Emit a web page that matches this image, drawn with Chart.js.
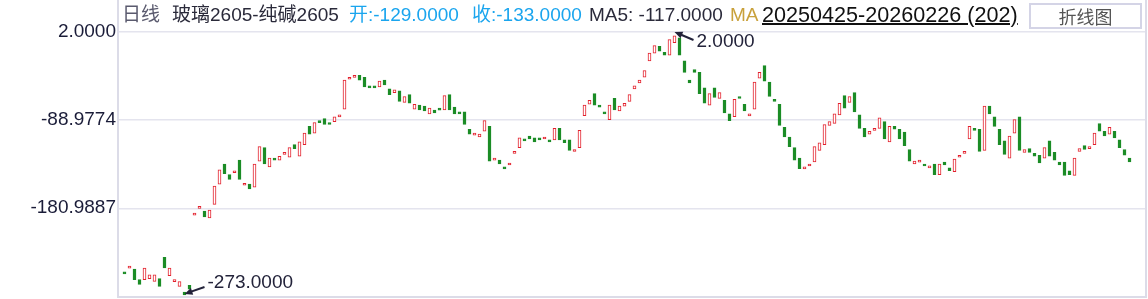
<!DOCTYPE html>
<html>
<head>
<meta charset="utf-8">
<script src="https://cdn.jsdelivr.net/npm/chart.js@4.4.1/dist/chart.umd.min.js"></script>
<style>
  body { margin: 0; background: #fff; }
  #wrap { position: relative; width: 1148px; height: 299px; overflow: hidden;
          font-family: "Liberation Sans", Arial, "Noto Sans CJK SC", sans-serif; }
  #c { position: absolute; left: 0; top: 0; }
  .hd { position: absolute; top: 4px; font-size: 19px; line-height: 22px; white-space: nowrap; color: #2a2a3a; }
  .date { top: 3px; font-size: 21.6px; line-height: 24px; color: #111; text-decoration: underline;
          text-decoration-thickness: 2px; }
  .btn { position: absolute; left: 1029px; top: 3px; width: 109px; height: 22px; border: 2px solid #d4d4e6;
         font-size: 18px; line-height: 22px; text-align: center; color: #555; font-family: "Noto Sans CJK SC", sans-serif; }
</style>
</head>
<body>
<div id="wrap">
  <canvas id="c" width="1148" height="299"></canvas>
  <div class="hd" style="left:122px;color:#5a5a6e">日线</div>
  <div class="hd" style="left:172px">玻璃2605-纯碱2605</div>
  <div class="hd" style="left:349px;color:#1aa5ee">开:-129.0000</div>
  <div class="hd" style="left:472px;color:#1aa5ee">收:-133.0000</div>
  <div class="hd" style="left:589px">MA5: -117.0000</div>
  <div class="hd" style="left:730px;color:#c9a13b">MA</div>
  <div class="hd date" style="left:762px">20250425-20260226 (202)</div>
  <div class="btn">折线图</div>
</div>
<script>
// 玻璃2605-纯碱2605 日线价差，202 根K线（开/收）
const opens = [
  -247, -243, -244, -255, -255, -254, -257, -254, -232, -251,
  -257, -262, -268, -261, -186, -180, -184, -191, -177, -156,
  -135, -146, -142, -131, -155, -156, -159, -132, -118, -138,
  -129, -131, -123, -128, -115, -127, -115, -96, -103, -90,
  -88, -92, -91, -84, -78, -45, -45, -43, -45, -54,
  -54, -55, -48, -57, -61, -59, -71, -63, -78, -74,
  -75, -83, -79, -77, -79, -63, -76, -81, -81, -99,
  -103, -107, -101, -96, -131, -131, -138, -134, -122, -118,
  -109, -106, -108, -108, -107, -110, -110, -98, -110, -110,
  -122, -118, -85, -73, -62, -74, -81, -89, -67, -80,
  -75, -70, -57, -51, -45, -28, -20, -13, -19, -22,
  -9, -4, -28, -48, -37, -40, -56, -74, -56, -67,
  -69, -83, -86, -65, -73, -85, -78, -46, -33, -50,
  -68, -73, -97, -107, -118, -129, -140, -137, -133, -121,
  -115, -95, -93, -84, -64, -71, -61, -84, -98, -104,
  -100, -98, -91, -112, -96, -99, -102, -120, -135, -133,
  -135, -137, -135, -146, -133, -139, -143, -128, -122, -109,
  -98, -99, -121, -75, -86, -99, -111, -129, -103, -86,
  -123, -119, -124, -126, -129, -111, -123, -133, -133, -142,
  -147, -122, -116, -119, -115, -93, -101, -104, -101, -110,
  -120, -129
];
const closes = [
  -248, -241, -255, -260, -243, -250, -250, -262, -243, -243,
  -255, -257, -271, -265, -186, -179, -190, -183, -158, -141,
  -145, -151, -142, -151, -155, -161, -135, -117, -135, -129,
  -131, -127, -123, -118, -119, -112, -103, -104, -92, -92,
  -94, -93, -86, -84, -48, -45, -43, -48, -55, -56,
  -56, -49, -53, -63, -58, -70, -65, -72, -73, -79,
  -80, -77, -82, -78, -64, -79, -83, -82, -94, -104,
  -103, -104, -90, -132, -129, -135, -140, -134, -122, -108,
  -110, -109, -112, -110, -107, -111, -98, -110, -113, -121,
  -120, -100, -74, -69, -74, -76, -83, -74, -79, -75,
  -72, -63, -54, -48, -38, -20, -12, -18, -22, -6,
  -2, -22, -40, -51, -40, -62, -72, -62, -66, -61,
  -82, -90, -68, -67, -80, -83, -50, -40, -49, -65,
  -69, -95, -107, -117, -131, -140, -138, -135, -117, -113,
  -94, -91, -83, -72, -77, -65, -81, -98, -107, -101,
  -98, -87, -109, -96, -99, -109, -116, -132, -132, -131,
  -136, -137, -146, -135, -136, -142, -130, -126, -122, -96,
  -99, -122, -75, -83, -96, -115, -125, -106, -89, -121,
  -120, -123, -127, -134, -118, -127, -131, -136, -147, -146,
  -129, -119, -120, -117, -103, -101, -106, -97, -108, -118,
  -126, -133
];
// 纵轴刻度
const yTicks = [2.0, -88.9774, -180.9887];
// 区间最高 / 最低（影线值）
const hiIndex = 110, hiValue = 2.0;
const loIndex = 12, loValue = -273.0;

const RED = "#e3202c";
const GREEN = "#1b8c26";

const bodies = opens.map((o, i) => ({ x: i, y: [o, closes[i]] }));
const isUp = i => closes[i] >= opens[i];

// 图框：左、下、右边线
const framePlugin = {
  id: "frame",
  beforeDatasetsDraw(chart) {
    const { ctx, chartArea: a } = chart;
    ctx.save();
    ctx.strokeStyle = "#dcdce8";
    ctx.lineWidth = 2;
    ctx.beginPath();
    ctx.moveTo(a.left, 0);
    ctx.lineTo(a.left, a.bottom);
    ctx.lineTo(a.right, a.bottom);
    ctx.lineTo(a.right, 0);
    ctx.stroke();
    ctx.restore();
  }
};

function drawMark(ctx, x, y, dx, dy, text, ty) {
  const len = Math.hypot(dx, dy);
  const ux = dx / len, uy = dy / len;
  ctx.strokeStyle = "#23233a";
  ctx.fillStyle = "#23233a";
  ctx.lineWidth = 2;
  ctx.beginPath();
  ctx.moveTo(x + ux * 4, y + uy * 4);
  ctx.lineTo(x + dx, y + dy);
  ctx.stroke();
  ctx.beginPath();
  ctx.moveTo(x, y);
  ctx.lineTo(x + ux * 8 - uy * 3.5, y + uy * 8 + ux * 3.5);
  ctx.lineTo(x + ux * 8 + uy * 3.5, y + uy * 8 - ux * 3.5);
  ctx.closePath();
  ctx.fill();
  ctx.font = '19px "Liberation Sans", Arial, sans-serif';
  ctx.textAlign = "left";
  ctx.textBaseline = "middle";
  ctx.fillText(text, x + dx + 3, ty);
}

// 最高/最低点标注
const markPlugin = {
  id: "marks",
  afterDatasetsDraw(chart) {
    const { ctx, chartArea: a, scales: { x, y } } = chart;
    ctx.save();
    const hx = x.getPixelForValue(hiIndex), hy = y.getPixelForValue(hiValue);
    drawMark(ctx, hx, hy, 19, 8, hiValue.toFixed(4), hy + 10);
    const lx = x.getPixelForValue(loIndex);
    const ly = Math.min(y.getPixelForValue(loValue), a.bottom - 3);
    drawMark(ctx, lx, ly, 20, -7, loValue.toFixed(4), ly - 11);
    ctx.restore();
  }
};

new Chart(document.getElementById("c"), {
  type: "bar",
  data: {
    datasets: [{
      data: bodies,
      barThickness: 3,
      minBarLength: 2,
      borderWidth: 1,
      borderSkipped: false,
      backgroundColor: c => isUp(c.dataIndex) ? "#ffffff" : GREEN,
      borderColor: c => isUp(c.dataIndex) ? RED : GREEN
    }]
  },
  options: {
    responsive: false,
    animation: false,
    layout: { padding: { top: 0, right: 2, bottom: 2, left: 0 } },
    plugins: { legend: { display: false }, tooltip: { enabled: false } },
    scales: {
      x: { type: "linear", display: false, offset: false, grid: { offset: false }, min: -1.3, max: 204.3 },
      y: {
        min: -273.1,
        max: 35.2,
        afterBuildTicks: s => { s.ticks = yTicks.map(v => ({ value: v })); },
        afterFit: s => { s.width = 118; s.paddingTop = 0; s.paddingBottom = 0; },
        border: { display: false },
        grid: { color: "#e4e4ee", drawTicks: false, lineWidth: 1.5 },
        ticks: {
          padding: 2,
          color: "#1a1c38",
          font: { size: 19, family: '"Liberation Sans", Arial, sans-serif' },
          callback: v => v.toFixed(4)
        }
      }
    }
  },
  plugins: [framePlugin, markPlugin]
});
</script>
</body>
</html>
